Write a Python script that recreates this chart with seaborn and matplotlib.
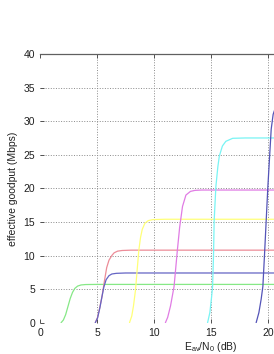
import matplotlib
matplotlib.use("Agg")
import matplotlib.pyplot as plt
import seaborn as sns
import pandas as pd

# ---- data ----
green_x = [1.85, 2.05, 2.25, 2.45, 2.65, 2.85, 3.05, 3.3, 3.6, 4.0, 5.0, 30.0]
green_y = [0.0, 0.4, 1.2, 2.4, 3.6, 4.5, 5.1, 5.45, 5.62, 5.68, 5.7, 5.7]

red_x = [4.85, 5.05, 5.25, 5.45, 5.65, 5.85, 6.05, 6.3, 6.5, 6.8, 7.2, 8.0, 30.0]
red_y = [0.0, 0.8, 2.3, 4.0, 6.2, 8.2, 9.3, 10.0, 10.4, 10.65, 10.75, 10.8, 10.8]

blue_x = [4.85, 5.05, 5.25, 5.45, 5.6, 5.8, 6.05, 6.3, 6.7, 7.5, 30.0]
blue_y = [0.0, 0.7, 2.2, 4.0, 5.3, 6.4, 7.0, 7.25, 7.35, 7.4, 7.4]

yellow_x = [7.85, 8.05, 8.2, 8.38, 8.52, 8.67, 8.82, 8.97, 9.2, 9.5, 9.9, 11.0, 30.0]
yellow_y = [0.0, 1.0, 2.5, 4.9, 7.8, 10.8, 12.7, 13.9, 14.8, 15.2, 15.35, 15.4, 15.4]

magenta_x = [11.0, 11.2, 11.45, 11.76, 11.9, 12.05, 12.25, 12.5, 12.8, 13.2, 13.6, 14.2, 30.0]
magenta_y = [0.0, 0.8, 2.5, 5.4, 8.0, 10.8, 14.2, 17.3, 19.0, 19.55, 19.7, 19.75, 19.75]

cyan_x = [14.7, 14.9, 15.05, 15.14, 15.22, 15.28, 15.43, 15.6, 15.73, 16.0, 16.3, 16.9, 18.0, 30.0]
cyan_y = [0.0, 1.5, 3.8, 5.4, 10.0, 15.3, 20.3, 23.2, 24.8, 26.3, 27.0, 27.45, 27.5, 27.5]

navy_x = [18.96, 19.2, 19.4, 19.55, 19.7, 19.85, 19.99, 20.15, 20.28, 20.45, 20.65]
navy_y = [0.0, 1.5, 3.5, 5.4, 10.3, 15.5, 20.3, 25.0, 28.8, 31.0, 32.0]

x_ticks = [0, 5, 10, 15, 20]
y_ticks = [0, 5, 10, 15, 20, 25, 30, 35, 40]

series = [
    (green_x, green_y, "#86e886"),
    (red_x, red_y, "#ec8c98"),
    (blue_x, blue_y, "#6464c4"),
    (yellow_x, yellow_y, "#ffff78"),
    (magenta_x, magenta_y, "#e07ce4"),
    (cyan_x, cyan_y, "#78f4f4"),
    (navy_x, navy_y, "#5454b8"),
]

sns.set_style("white")
plt.rcParams["font.family"] = ["Liberation Sans", "DejaVu Sans"]
plt.rcParams["mathtext.default"] = "regular"

fig = plt.figure(figsize=(2.74, 3.54), dpi=100)
ax = fig.add_axes([40 / 274, (354 - 322.7) / 354, 342 / 274, 268.7 / 354])

# dotted grid (no lines at the axis limits)
for xv in x_ticks[1:]:
    ax.axvline(xv, linestyle=":", color="#8a8a8a", linewidth=0.7, zorder=0)
for yv in y_ticks[1:-1]:
    ax.axhline(yv, linestyle=":", color="#8a8a8a", linewidth=0.7, zorder=0)

for xs, ys, col in series:
    df = pd.DataFrame({"x": xs, "y": ys})
    sns.lineplot(data=df, x="x", y="y", ax=ax, color=col, linewidth=0.9,
                 sort=False, estimator=None)

ax.set_xlim(0, 30)
ax.set_ylim(0, 40)
ax.set_xticks(x_ticks)
ax.set_yticks(y_ticks)
ax.grid(False)
for s in ["left", "bottom"]:
    ax.spines[s].set_visible(False)
ax.spines["top"].set_color("#606060")
ax.spines["top"].set_linewidth(0.9)
ax.tick_params(direction="in", length=3, width=0.7, color="#505050",
               labelsize=7.5, labelcolor="#202020", pad=3.5,
               top=True, right=False, bottom=True, left=True)
ax.set_xlabel("E$_{av}$/N$_0$ (dB)", fontsize=7.5, color="#202020", labelpad=1.5)
ax.set_ylabel("effective goodput (Mbps)", fontsize=7.5, color="#202020", labelpad=4)

fig.savefig("out.png", dpi=100, facecolor="white")
